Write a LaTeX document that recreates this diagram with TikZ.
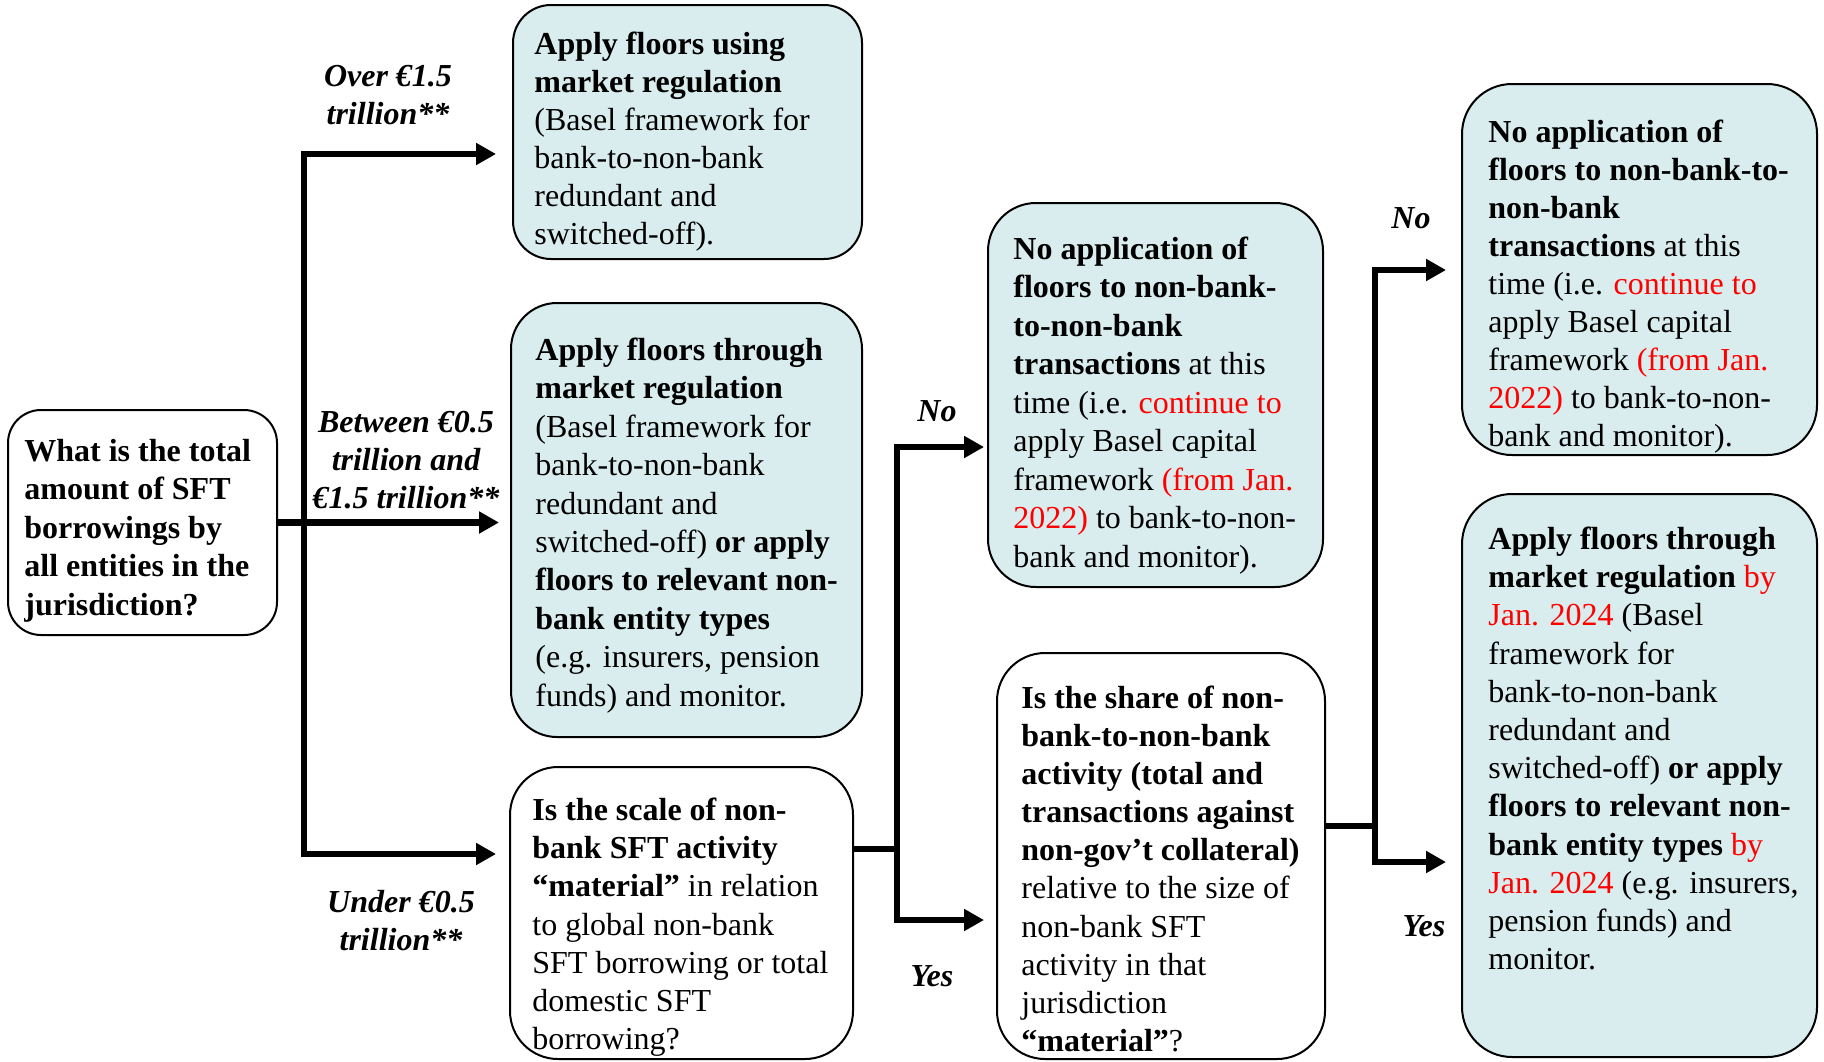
\documentclass[tikz,border=0pt]{standalone}
\usepackage{fontspec}
\setmainfont{Liberation Serif}
\usetikzlibrary{arrows.meta,fit}
\definecolor{boxfill}{RGB}{218,237,238}
\definecolor{hlred}{RGB}{255,0,0}
\newcommand{\fst}{\rule{0pt}{12pt}}
\newcommand{\rd}[1]{\textcolor{hlred}{#1}}
\begin{document}
\begin{tikzpicture}[x=0.5pt,y=-0.5pt,
  box/.style={draw, line width=1pt, fill=boxfill, inner sep=0pt, rounded corners=#1},
  wbox/.style={draw, line width=1pt, fill=white, inner sep=0pt, rounded corners=#1},
  txt/.style={anchor=north west, inner sep=0pt, align=left, font=\fontsize{16pt}{#1}\selectfont},
  btxt/.style={anchor=north west, inner sep=0pt, align=left, font=\fontsize{16pt}{#1}\selectfont\bfseries},
  lbl/.style={anchor=north, inner sep=0pt, align=center, font=\fontsize{16pt}{18.9pt}\selectfont\bfseries\itshape},
  conn/.style={line width=3.2pt, line join=miter, line cap=butt},
  arr/.style={conn, -{Triangle[length=10pt,width=10.5pt]}}]
\useasboundingbox (0,0) rectangle (1824,1061);

% boxes
\node[wbox=16.5pt, fit={(8,410) (277,635)}] (Q1) {};
\node[box=19pt, fit={(513,5) (862,259)}] (A) {};
\node[box=23pt, fit={(511,303) (862,737)}] (B) {};
\node[wbox=24pt, fit={(510,767) (853,1059)}] (C) {};
\node[box=24pt, fit={(988,203) (1323,587)}] (D) {};
\node[wbox=24pt, fit={(997,653) (1325,1059)}] (E) {};
\node[box=25pt, fit={(1462,84) (1817,455)}] (F) {};
\node[box=25pt, fit={(1462,494) (1817,1057)}] (G) {};

% texts
\node[btxt=19.2pt] (Qt) at (24,437) {\fst What is the total\\amount of SFT\\borrowings by\\all entities in the\\jurisdiction?};
\node[txt=19.0pt] (At) at (534,30) {\fst\textbf{Apply floors using}\\\textbf{market regulation}\\(Basel framework for\\bank-to-non-bank\\redundant and\\switched-off).};
\node[txt=19.2pt] (Bt) at (535,336) {\fst\textbf{Apply floors through}\\\textbf{market regulation}\\(Basel framework for\\bank-to-non-bank\\redundant and\\switched-off) \textbf{or apply}\\\textbf{floors to relevant non-}\\\textbf{bank entity types}\\(e.g. insurers, pension\\funds) and monitor.};
\node[txt=19.1pt] (Ct) at (532,796) {\fst\textbf{Is the scale of non-}\\\textbf{bank SFT activity}\\\textbf{“material”} in relation\\to global non-bank\\SFT borrowing or total\\domestic SFT\\borrowing?};
\node[txt=19.25pt] (Dt) at (1013,235) {\fst\textbf{No application of}\\\textbf{floors to non-bank-}\\\textbf{to-non-bank}\\\textbf{transactions} at this\\time (i.e. \rd{continue to}\\apply Basel capital\\framework \rd{(from Jan.}\\\rd{2022)} to bank-to-non-\\bank and monitor).};
\node[txt=19.05pt] (Et) at (1021,684) {\fst\textbf{Is the share of non-}\\\textbf{bank-to-non-bank}\\\textbf{activity (total and}\\\textbf{transactions against}\\\textbf{non-gov’t collateral)}\\relative to the size of\\non-bank SFT\\activity in that\\jurisdiction\\\textbf{“material”}?};
\node[txt=19.0pt] (Ft) at (1488,118) {\fst\textbf{No application of}\\\textbf{floors to non-bank-to-}\\\textbf{non-bank}\\\textbf{transactions} at this\\time (i.e. \rd{continue to}\\apply Basel capital\\framework \rd{(from Jan.}\\\rd{2022)} to bank-to-non-\\bank and monitor).};
\node[txt=19.1pt] (Gt) at (1488,525) {\fst\textbf{Apply floors through}\\\textbf{market regulation} \rd{by}\\\rd{Jan. 2024} (Basel\\framework for\\bank-to-non-bank\\redundant and\\switched-off) \textbf{or apply}\\\textbf{floors to relevant non-}\\\textbf{bank entity types} \rd{by}\\\rd{Jan. 2024} (e.g. insurers,\\pension funds) and\\monitor.};

% labels
\node[lbl] (L1) at (388,62) {\fst Over €1.5\\trillion**};
\node[lbl] (L2) at (406,408) {\fst Between €0.5\\trillion and\\€1.5 trillion**};
\node[lbl] (L3) at (401,888) {\fst Under €0.5\\trillion**};
\node[lbl] (L4) at (937,397) {\fst No};
\node[lbl] (L5) at (932,962) {\fst Yes};
\node[lbl] (L6) at (1411,204) {\fst No};
\node[lbl] (L7) at (1424,912) {\fst Yes};

% connector coordinates
\coordinate (x1) at (304,0);
\coordinate (yA) at (0,154);
\coordinate (yC) at (0,854);
\coordinate (x2) at (897,0);
\coordinate (yCo) at (0,849);
\coordinate (yD) at (0,447);
\coordinate (yE) at (0,920);
\coordinate (x3) at (1375,0);
\coordinate (yEo) at (0,826);
\coordinate (yF) at (0,270);
\coordinate (yG) at (0,862);

% first decision
\draw[arr, shorten >=5.5pt] (Q1.east) -- (Q1.east -| B.west);
\draw[arr, shorten >=8pt] (x1|-yC) -- (x1|-yA) -- (A.west|-yA);
\draw[arr, shorten >=6.5pt] (x1|-yA) -- (x1|-yC) -- (C.west|-yC);
% second decision
\draw[conn] (C.east|-yCo) -- (x2|-yCo);
\draw[arr, shorten >=1.5pt] (x2|-yE) -- (x2|-yD) -- (D.west|-yD);
\draw[arr, shorten >=6pt] (x2|-yD) -- (x2|-yE) -- (E.west|-yE);
% third decision
\draw[conn] (E.east|-yEo) -- (x3|-yEo);
\draw[arr, shorten >=7.5pt] (x3|-yG) -- (x3|-yF) -- (F.west|-yF);
\draw[arr, shorten >=7.5pt] (x3|-yF) -- (x3|-yG) -- (G.west|-yG);
\end{tikzpicture}
\end{document}
